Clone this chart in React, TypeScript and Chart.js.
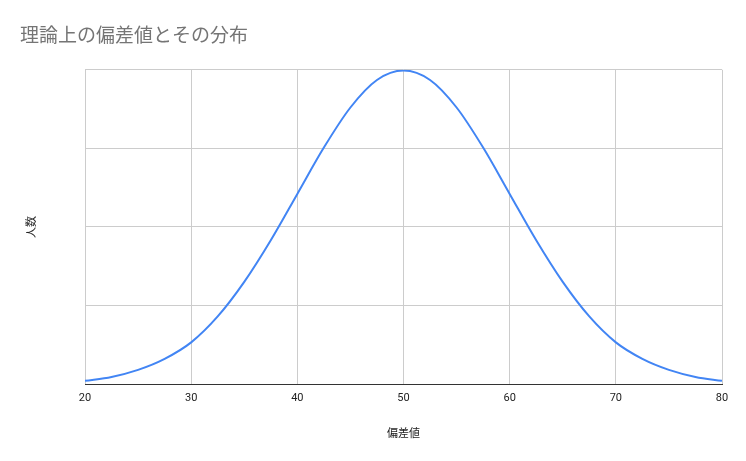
import { useEffect, useRef } from "react";
import { Chart, registerables } from "chart.js";

Chart.register(...registerables);

const scores = [20, 22.5, 25, 27.5, 30, 32.5, 35, 37.5, 40, 42.5, 45, 47.5, 50, 52.5, 55, 57.5, 60, 62.5, 65, 67.5, 70, 72.5, 75, 77.5, 80];
const people = [0.4, 0.9, 1.8, 3.2, 5.3, 8.6, 13.0, 18.3, 24.2, 30.1, 35.2, 38.7, 39.9, 38.7, 35.2, 30.1, 24.2, 18.3, 13.0, 8.6, 5.3, 3.2, 1.8, 0.9, 0.4];
const xTicks = [20, 30, 40, 50, 60, 70, 80];

const TITLE = "理論上の偏差値とその分布";
const X_TITLE = "偏差値";
const Y_TITLE = "人数";

const cjk = "'Noto Sans CJK JP', Roboto, sans-serif";

export default function App() {
  const canvasRef = useRef<HTMLCanvasElement>(null);

  useEffect(() => {
    document.body.style.margin = "0";
    if (!canvasRef.current) return;
    const chart = new Chart(canvasRef.current, {
      type: "line",
      data: {
        datasets: [
          {
            data: scores.map((s, i) => ({ x: s, y: people[i] })),
            borderColor: "#4285F4",
            borderWidth: 2,
            pointRadius: 0,
            cubicInterpolationMode: "monotone",
            fill: false,
          },
        ],
      },
      options: {
        animation: false,
        responsive: false,
        devicePixelRatio: 1,
        layout: { padding: { left: 20, right: 24, top: 0, bottom: 0 } },
        plugins: {
          legend: { display: false },
          tooltip: { enabled: false },
          title: {
            display: true,
            text: TITLE,
            align: "start",
            color: "#757575",
            font: { family: cjk, size: 19, weight: "normal" },
            padding: { top: 23, bottom: 24 },
          },
        },
        scales: {
          x: {
            type: "linear",
            min: 20,
            max: 80,
            afterBuildTicks: (scale) => {
              scale.ticks = xTicks.map((v) => ({ value: v }));
            },
            afterFit: (scale) => {
              scale.height = 77;
            },
            grid: { color: "#cccccc", drawTicks: false },
            border: { color: "#333333", width: 1 },
            ticks: {
              color: "#222222",
              padding: 8,
              maxRotation: 0,
              font: { family: "Roboto, sans-serif", size: 11 },
            },
            title: {
              display: true,
              text: X_TITLE,
              color: "#222222",
              font: { family: cjk, size: 11 },
              padding: { top: 0, bottom: 22 },
            },
          },
          y: {
            min: 0,
            max: 40,
            afterBuildTicks: (scale) => {
              scale.ticks = [0, 10, 20, 30, 40].map((v) => ({ value: v }));
            },
            afterFit: (scale) => {
              scale.width = 65;
            },
            grid: { color: "#cccccc", drawTicks: false },
            border: { display: false },
            ticks: { display: false },
            title: {
              display: true,
              text: Y_TITLE,
              color: "#222222",
              font: { family: cjk, size: 11 },
              padding: { top: 4, bottom: 0 },
            },
          },
        },
      },
    });
    return () => {
      chart.destroy();
    };
  }, []);

  return (
    <div style={{ width: 746, height: 461, background: "#fff" }}>
      <canvas ref={canvasRef} width={746} height={461} />
    </div>
  );
}
